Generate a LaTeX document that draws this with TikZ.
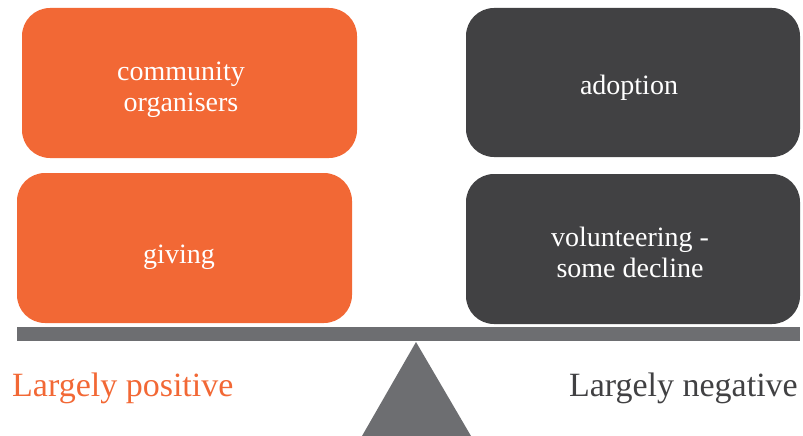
\documentclass[tikz,border=0pt]{standalone}
\usepackage{fontspec}
\setmainfont{Liberation Serif}
\definecolor{orng}{HTML}{F26835}
\definecolor{darkbox}{HTML}{414143}
\definecolor{beamgray}{HTML}{6D6E71}
\begin{document}
\begin{tikzpicture}[x=1pt,y=-1pt,
  card/.style={rounded corners=28pt},
  cardtext/.style={text=white,align=center,font=\fontsize{28}{31}\selectfont},
  sidelabel/.style={font=\fontsize{34}{40}\selectfont,inner sep=0pt}]
\useasboundingbox (0,0) rectangle (803,436);
% boxes
\fill[orng,card] (22,8) rectangle (357,158);
\fill[orng,card] (17,173) rectangle (352,323);
\fill[darkbox,card] (466,8) rectangle (800,157);
\fill[darkbox,card] (466,174) rectangle (800,324);
% texts
\node[cardtext] (t1) at (181,90) {community\\organisers};
\node[cardtext] (t2) at (179,257) {giving};
\node[cardtext] (t3) at (629,88) {adoption};
\node[cardtext] (t4) at (630,252) {volunteering -\\some decline};
% beam and fulcrum
\fill[beamgray] (17,327) rectangle (800,341);
\fill[beamgray] (416,342) -- (471,436) -- (362,436) -- cycle;
% labels
\node[sidelabel,text=orng,anchor=base west] (pos) at (12,396) {Largely positive};
\node[sidelabel,text=darkbox,anchor=base east] (neg) at (798,396) {Largely negative};
\end{tikzpicture}
\end{document}
